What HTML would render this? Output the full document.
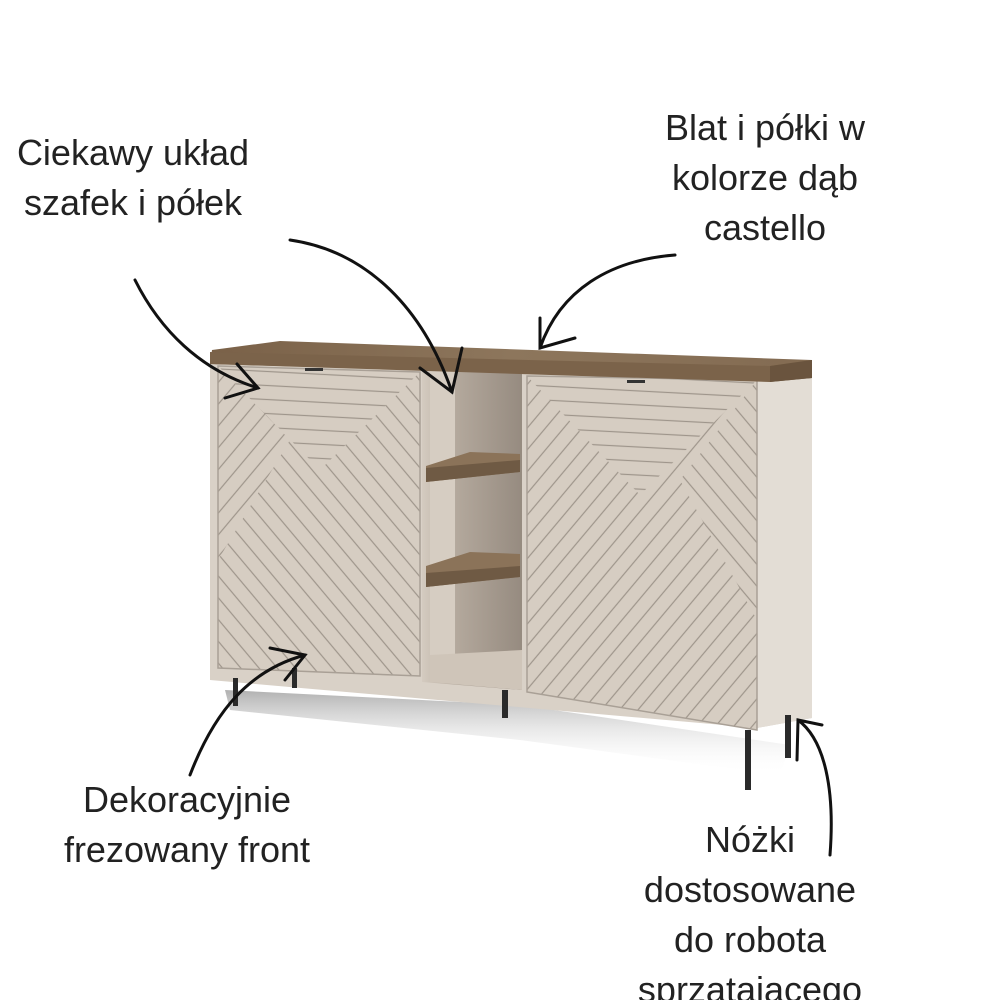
<!DOCTYPE html>
<html><head><meta charset="utf-8"><style>
html,body{margin:0;padding:0;background:#fff;width:1000px;height:1000px;overflow:hidden}
svg{display:block}
text{font-family:"Liberation Sans",sans-serif;font-size:36px;fill:#222;text-anchor:middle}
</style></head><body>
<svg width="1000" height="1000" viewBox="0 0 1000 1000" xmlns="http://www.w3.org/2000/svg">
<defs>
<pattern id="ph" width="14" height="14" patternUnits="userSpaceOnUse" patternTransform="rotate(3)"><rect width="14" height="14" fill="#d6cdc2"/><line x1="0" y1="7" x2="14" y2="7" stroke="#9e958b" stroke-width="1.2"/></pattern>
<pattern id="pd1" width="14" height="14" patternUnits="userSpaceOnUse" patternTransform="rotate(-50)"><rect width="14" height="14" fill="#d6cdc2"/><line x1="0" y1="7" x2="14" y2="7" stroke="#9e958b" stroke-width="1.2"/></pattern>
<pattern id="pd2" width="14" height="14" patternUnits="userSpaceOnUse" patternTransform="rotate(50)"><rect width="14" height="14" fill="#d6cdc2"/><line x1="0" y1="7" x2="14" y2="7" stroke="#9e958b" stroke-width="1.2"/></pattern>
<linearGradient id="sh" x1="0" y1="0" x2="0" y2="1"><stop offset="0" stop-color="#a8a8a8"/><stop offset="1" stop-color="#fff" stop-opacity="0"/></linearGradient>
<linearGradient id="inn" x1="0" y1="0" x2="1" y2="0"><stop offset="0" stop-color="#d4cbc0"/><stop offset="0.35" stop-color="#b3a89c"/><stop offset="1" stop-color="#968b80"/></linearGradient>
<linearGradient id="wood" x1="0" y1="0" x2="1" y2="0"><stop offset="0" stop-color="#7a6148"/><stop offset="0.5" stop-color="#8d765c"/><stop offset="1" stop-color="#836b52"/></linearGradient>
</defs>
<polygon points="225,690 520,705 790,745 780,775 520,740 230,710" fill="url(#sh)" opacity="0.9"/>
<polygon points="210,360 812,376 812,718 757,728 210,680" fill="#d9d1c7"/>
<polygon points="757,378 812,376 812,718 757,728" fill="#e3ddd5"/>
<polygon points="422,368 522,371 522,690 422,682" fill="url(#inn)"/>
<polygon points="430,370 455,371 455,682 430,682" fill="#d6cdc2"/>
<polygon points="430,655 522,650 522,690 430,682" fill="#cfc5b9"/>
<polygon points="426,466 470,452 520,454 520,472 426,482" fill="#8b7359"/>
<polygon points="426,468 520,460 520,472 426,482" fill="#6f5a44"/>
<polygon points="426,566 470,552 520,554 520,577 426,587" fill="#8b7359"/>
<polygon points="426,573 520,566 520,577 426,587" fill="#6f5a44"/>
<polygon points="218,366 420,372 420,676 218,668" fill="url(#pd2)"/>
<polygon points="218,366 420,372 320,470" fill="url(#ph)"/>
<polygon points="218,366 290,440 218,560" fill="url(#pd1)"/>
<polygon points="218,366 420,372 420,676 218,668" fill="none" stroke="#a9a096" stroke-width="1.5"/>
<polygon points="527,376 757,380 757,730 527,692" fill="url(#pd1)"/>
<polygon points="527,376 757,380 640,495" fill="url(#ph)"/>
<polygon points="757,380 757,620 680,480" fill="url(#pd2)"/>
<polygon points="527,376 757,380 757,730 527,692" fill="none" stroke="#a9a096" stroke-width="1.5"/>
<rect x="305" y="368" width="18" height="3" fill="#333"/>
<rect x="627" y="380" width="18" height="3" fill="#333"/>
<polygon points="212,350 280,341 812,360 812,378 770,380 210,364" fill="url(#wood)"/>
<polygon points="210,352 770,366 812,360 812,378 770,382 210,364" fill="#7b634a"/>
<polygon points="770,366 812,360 812,378 770,382" fill="#6a543e"/>
<rect x="233" y="678" width="5" height="28" fill="#2a2a2a"/>
<rect x="292" y="668" width="5" height="20" fill="#2a2a2a"/>
<rect x="502" y="690" width="6" height="28" fill="#2a2a2a"/>
<rect x="745" y="730" width="6" height="60" fill="#2a2a2a"/>
<rect x="785" y="715" width="6" height="43" fill="#2a2a2a"/>
<g fill="none" stroke="#111" stroke-width="3" stroke-linecap="round">
<path d="M135,280 C160,330 200,370 258,388"/>
<path d="M225,398 L258,388 L237,364"/>
<path d="M290,240 C360,250 420,300 452,392"/>
<path d="M420,368 L452,392 L462,348"/>
<path d="M675,255 C610,260 560,290 540,348"/>
<path d="M540,318 L540,348 L575,338"/>
<path d="M190,775 C215,710 250,670 305,655"/>
<path d="M270,648 L305,655 L285,680"/>
<path d="M830,855 C835,790 825,740 798,720"/>
<path d="M797,760 L798,720 L822,725"/>
</g>
<text x="133" y="165">Ciekawy układ</text>
<text x="133" y="215">szafek i półek</text>
<text x="765" y="140">Blat i półki w</text>
<text x="765" y="190">kolorze dąb</text>
<text x="765" y="240">castello</text>
<text x="187" y="812">Dekoracyjnie</text>
<text x="187" y="862">frezowany front</text>
<text x="750" y="852">Nóżki</text>
<text x="750" y="902">dostosowane</text>
<text x="750" y="952">do robota</text>
<text x="750" y="1002">sprzątającego</text>
</svg>
</body></html>
